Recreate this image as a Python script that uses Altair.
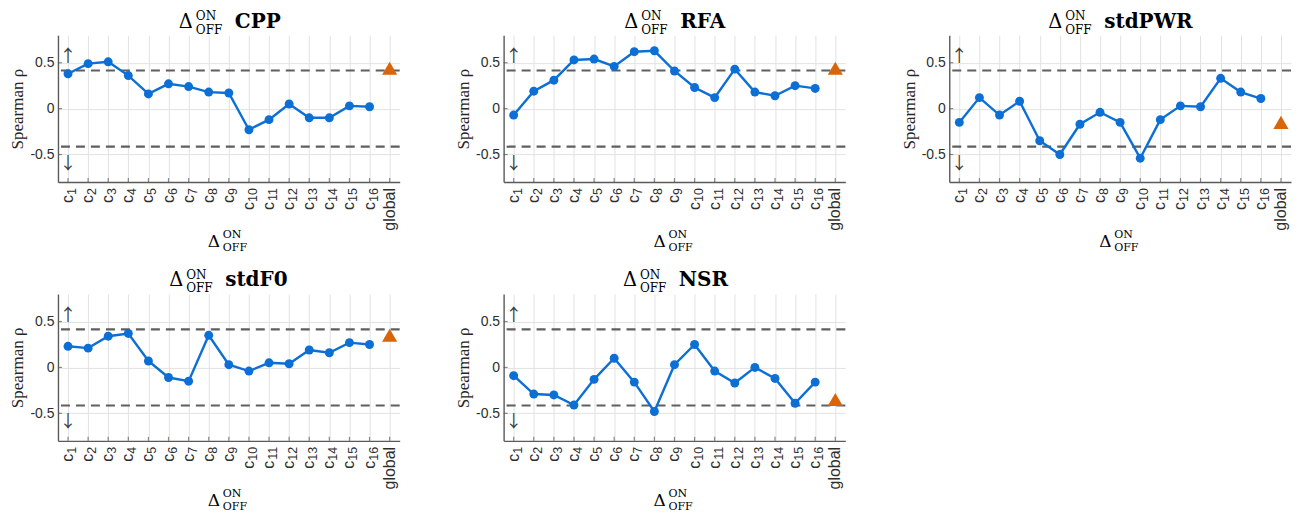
import altair as alt
import pandas as pd

# ---------------- data ----------------
cat_nums = [str(i) for i in range(1, 17)]
cats = [f"c{n}" for n in cat_nums] + ["global"]

metrics = ["CPP", "RFA", "stdPWR", "stdF0", "NSR"]

cpp = [0.38, 0.49, 0.51, 0.36, 0.16, 0.27, 0.24, 0.18, 0.17, -0.23, -0.12, 0.05, -0.10, -0.10, 0.03, 0.02]
rfa = [-0.07, 0.19, 0.31, 0.53, 0.54, 0.46, 0.62, 0.63, 0.41, 0.23, 0.12, 0.43, 0.18, 0.14, 0.25, 0.22]
stdpwr = [-0.15, 0.12, -0.07, 0.08, -0.35, -0.50, -0.17, -0.04, -0.15, -0.54, -0.12, 0.03, 0.02, 0.33, 0.18, 0.11]
stdf0 = [0.23, 0.21, 0.34, 0.37, 0.07, -0.11, -0.15, 0.35, 0.03, -0.04, 0.05, 0.04, 0.19, 0.16, 0.27, 0.25]
nsr = [-0.09, -0.29, -0.30, -0.41, -0.13, 0.10, -0.16, -0.48, 0.03, 0.25, -0.04, -0.17, 0.00, -0.12, -0.39, -0.16]
series = [cpp, rfa, stdpwr, stdf0, nsr]

global_vals = [0.44, 0.44, -0.15, 0.35, -0.35]
threshold = 0.415
y_ticks = [-0.5, 0, 0.5]
arrow_pos = [0.56, -0.6]
arrow_txt = ["↑", "↓"]

# ---------------- style ----------------
W, H = 342, 147
BLUE = "#0b6fd6"
ORANGE = "#D9650B"
AXIS = "#5a5a5a"
LABEL = "#2e2e2e"
SERIF = "DejaVu Serif"

# approximate rendered widths of bold names (DejaVu Serif Bold)
_cw = {"C": .734, "P": .733, "R": .771, "F": .683, "A": .774, "N": .872, "S": .72,
       "W": 1.103, "s": .595, "t": .478, "d": .716, "0": .696}


def name_width(s, fs):
    return sum(_cw.get(c, .7) for c in s) * fs


def txt(t, x, y, size, font=SERIF, weight="normal", color="#000"):
    return alt.Chart(pd.DataFrame({"t": [t]})).mark_text(
        align="left", baseline="alphabetic", font=font, fontSize=size,
        fontWeight=weight, color=color
    ).encode(x=alt.value(x), y=alt.value(y), text="t:N")


xaxis = alt.Axis(title=None, labels=False, ticks=False, tickSize=0,
                 domainColor=AXIS, domainWidth=1.4, grid=True,
                 gridColor="#e2e2e2", gridWidth=1)
yaxis = alt.Axis(title="Spearman ρ", values=y_ticks, labelExpr="toString(datum.value)",
                 labelFontSize=14, labelFont="Liberation Sans", labelColor=LABEL,
                 labelPadding=4, ticks=False, tickSize=0, domainColor=AXIS,
                 domainWidth=1.4, grid=True, gridColor="#e2e2e2", gridWidth=1,
                 titleFont="Liberation Serif", titleFontSize=17, titleFontWeight="normal",
                 titleColor="#262626", titlePadding=3)

lab_df = pd.DataFrame({"cat": cats[:16], "num": cat_nums, "c": ["c"] * 16,
                       "nd": [len(n) for n in cat_nums]})


def panel(i):
    xenc = alt.X("cat:N", sort=cats, scale=alt.Scale(domain=cats, type="point", padding=0.5), axis=xaxis)
    yenc = alt.Y("rho:Q", scale=alt.Scale(domain=[-0.8, 0.8], nice=False, zero=False), axis=yaxis)

    df = pd.DataFrame({"cat": cats[:16], "rho": series[i]})
    gdf = pd.DataFrame({"cat": [cats[16]], "rho": [global_vals[i]]})
    thr = pd.DataFrame({"rho": [threshold, -threshold]})
    arr = pd.DataFrame({"cat": [cats[0]] * 2, "rho": arrow_pos, "a": arrow_txt})
    ytk = pd.DataFrame({"rho": y_ticks})
    xtk = pd.DataFrame({"cat": cats})

    rules = alt.Chart(thr).mark_rule(strokeDash=[9, 6], strokeWidth=2.2, color="#5f5f5f").encode(y=yenc)
    xticks = alt.Chart(xtk).mark_tick(orient="vertical", size=4, thickness=1.2, color=AXIS).encode(
        x=xenc, y=alt.value(H - 2))
    yticks = alt.Chart(ytk).mark_tick(orient="horizontal", size=4, thickness=1.2, color=AXIS).encode(
        y=yenc, x=alt.value(2))
    line = alt.Chart(df).mark_line(color=BLUE, strokeWidth=2.4).encode(x=xenc, y=yenc)
    pts = alt.Chart(df).mark_circle(color=BLUE, size=80, opacity=1).encode(x=xenc, y=yenc)
    tri = alt.Chart(gdf).mark_point(shape="triangle-up", filled=True, size=230,
                                     color=ORANGE, opacity=1).encode(x=xenc, y=yenc)
    arrows = alt.Chart(arr).mark_text(fontSize=17, color="#3a3a3a", font="Noto Sans CJK SC").encode(
        x=xenc, y=yenc, text="a:N")

    # x tick labels: "c" with subscript number, rotated
    digits = alt.Chart(lab_df).mark_text(angle=270, align="right", baseline="middle", dy=4,
                                         fontSize=12.5, font="Liberation Sans", color=LABEL).encode(
        x=xenc, y=alt.value(H + 6), text="num:N")
    c1 = alt.Chart(lab_df).transform_filter("datum.nd == 1").mark_text(
        angle=270, align="right", baseline="middle", fontSize=16, font="Liberation Sans",
        color=LABEL).encode(x=xenc, y=alt.value(H + 13), text="c:N")
    c2 = alt.Chart(lab_df).transform_filter("datum.nd == 2").mark_text(
        angle=270, align="right", baseline="middle", fontSize=16, font="Liberation Sans",
        color=LABEL).encode(x=xenc, y=alt.value(H + 20), text="c:N")
    glab = alt.Chart(xtk).transform_filter("datum.cat == 'global'").mark_text(
        angle=270, align="right", baseline="middle", fontSize=16, font="Liberation Sans",
        color=LABEL).encode(x=xenc, y=alt.value(H + 6), text="cat:N")

    # title: Delta_OFF^ON <name>
    C = W / 2
    L = 56
    n = name_width(metrics[i], 20)
    s = C - (L + n) / 2
    title = [
        txt("Δ", s, -7.5, 19.5),
        txt("ON", s + 17, -15, 12),
        txt("OFF", s + 17, -1.5, 12),
        txt(metrics[i], s + L, -7.5, 20, weight="bold"),
    ]
    # x-axis title: Delta_OFF^ON
    xt = [
        txt("Δ", C - 21, H + 65, 17),
        txt("ON", C - 6, H + 56, 11),
        txt("OFF", C - 6, H + 69, 11),
    ]
    return alt.layer(rules, xticks, yticks, line, pts, tri, arrows, digits, c1, c2, glab,
                     *title, *xt).properties(width=W, height=H)


chart = alt.concat(*[panel(i) for i in range(5)], columns=3,
                   spacing={"row": 112, "column": 104}, bounds="flush").properties(
    padding={"left": 0, "top": 2, "right": 0, "bottom": 0}
).configure_view(stroke=None)

chart.save("out.html", embed_options={"renderer": "svg", "actions": False})
